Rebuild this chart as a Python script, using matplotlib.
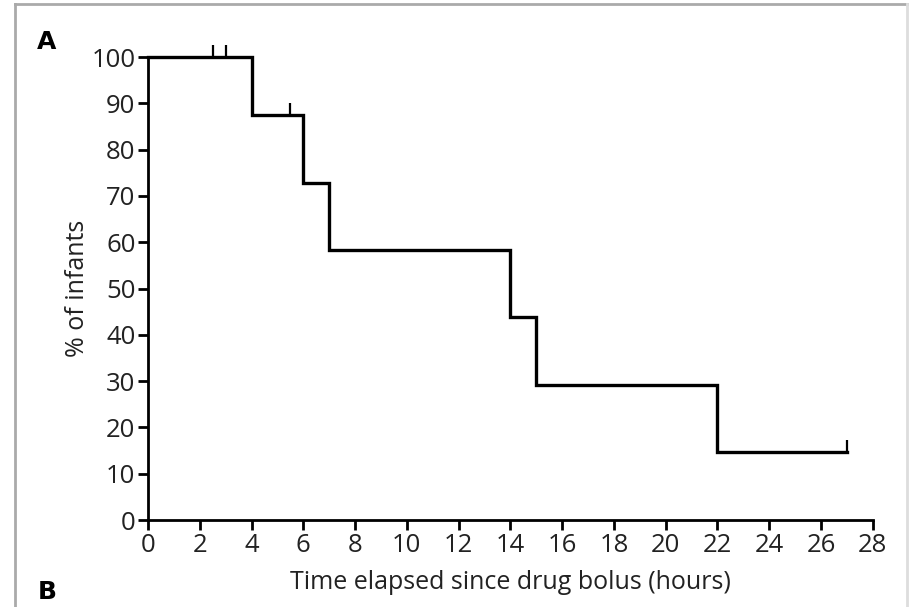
import matplotlib
matplotlib.use("Agg")
import matplotlib.pyplot as plt
from matplotlib.lines import Line2D

plt.rcParams['font.family'] = ['Open Sans', 'DejaVu Sans']

# Kaplan-Meier step data
event_times = [0, 4, 6, 7, 14, 15, 22, 27]
survival = [100, 87.5, 72.9, 58.3, 43.75, 29.2, 14.6, 14.6]
censor_times = [2.5, 3, 5.5, 27]
censor_values = [100, 100, 87.5, 14.6]
x_ticks = list(range(0, 29, 2))
y_ticks = list(range(0, 101, 10))

fig = plt.figure(figsize=(9.11, 6.07), dpi=100)
ax = fig.add_axes([0.1625, 0.1433, 0.7955, 0.7627])

ax.step(event_times, survival, where='post', color='black', lw=2.4,
        solid_joinstyle='miter', clip_on=False, zorder=3)
ax.plot(censor_times, censor_values, linestyle='none', marker=2,
        markersize=9, markeredgewidth=1.6, color='black', clip_on=False,
        zorder=3)

ax.set_xlim(0, 28)
ax.set_ylim(0, 100)
ax.set_xticks(x_ticks)
ax.set_yticks(y_ticks)
ax.tick_params(axis='both', direction='out', length=7, width=2,
               labelsize=18.5, pad=2, color='black', labelcolor='#222222')
for s in ['top', 'right']:
    ax.spines[s].set_visible(False)
for s in ['left', 'bottom']:
    ax.spines[s].set_linewidth(2)
ax.set_xlabel('Time elapsed since drug bolus (hours)', fontsize=18,
              labelpad=9, color='#222222')
ax.set_ylabel('% of infants', fontsize=18, labelpad=1, color='#222222')

fig.text(0.041, 0.930, 'A', fontsize=18, fontweight='bold',
         ha='left', va='center', family=['DejaVu Sans'])
fig.text(0.041, 0.005, 'B', fontsize=18, fontweight='bold',
         ha='left', va='bottom', family=['DejaVu Sans'])

# figure border
fig.add_artist(Line2D([0.016, 0.996], [0.994, 0.994], color='#aaaaaa',
                      lw=2, transform=fig.transFigure))
fig.add_artist(Line2D([0.0165, 0.0165], [0.0, 0.994], color='#aaaaaa',
                      lw=2, transform=fig.transFigure))
fig.add_artist(Line2D([0.996, 0.996], [0.0, 0.994], color='#dddddd',
                      lw=2, transform=fig.transFigure))

fig.savefig('out.png', dpi=100)
